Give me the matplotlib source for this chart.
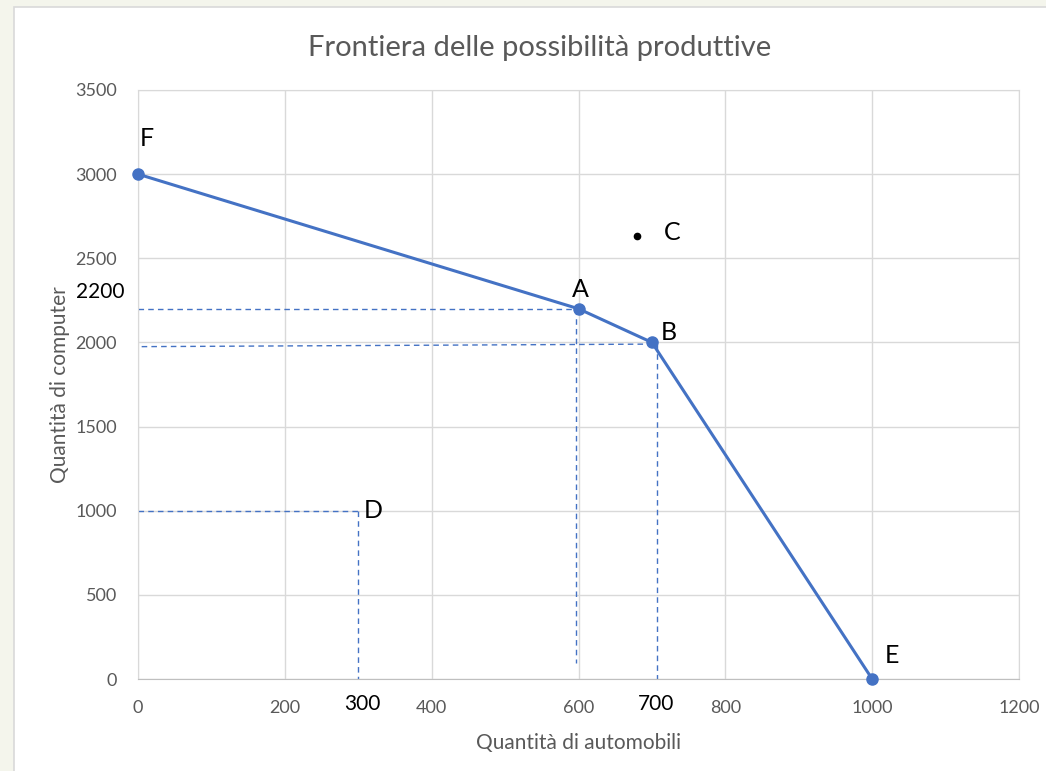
import matplotlib
matplotlib.use("Agg")
import matplotlib.pyplot as plt
from matplotlib.patches import Rectangle

plt.rcParams['font.family'] = ['Lato', 'DejaVu Sans']

# frontiera: punti F, A, B, E
front_x = [0, 600, 700, 1000]
front_y = [3000, 2200, 2000, 0]
front_names = ["F", "A", "B", "E"]

# punto C fuori dalla frontiera, punto D interno
c_x, c_y = 680, 2630
d_x, d_y = 300, 1000

# linee tratteggiate di riferimento (x0, y0, x1, y1)
guides = [
    (0, 2200, 600, 2200),
    (597, 2200, 597, 95),
    (5, 1975, 700, 1990),
    (707, 1990, 707, 0),
    (0, 1000, 300, 1000),
    (300, 1000, 300, 0),
]

x_ticks = [0, 200, 400, 600, 800, 1000, 1200]
y_ticks = [0, 500, 1000, 1500, 2000, 2500, 3000, 3500]

blue = "#4472C4"
grey = "#595959"

fig = plt.figure(figsize=(10.46, 7.71), dpi=100)
fig.patch.set_facecolor("#F4F5EC")
fig.patches.append(Rectangle((14/1046, -0.05), 1.2, 1.05 - 7/771,
                             transform=fig.transFigure, facecolor="white",
                             edgecolor="#D9D9D9", linewidth=1.2, zorder=-1))

ax = fig.add_axes([138/1046, 1 - 679/771, (1019 - 138)/1046, (679 - 90)/771])
ax.patch.set_alpha(0)
ax.set_xlim(0, 1200)
ax.set_ylim(0, 3500)
ax.set_xticks(x_ticks)
ax.set_yticks(y_ticks)
ax.grid(True, color="#D9D9D9", linewidth=1)
ax.set_axisbelow(True)
for s in ["top", "right", "left"]:
    ax.spines[s].set_color("#D9D9D9")
ax.spines["bottom"].set_color("#BFBFBF")
ax.tick_params(length=0, labelsize=13, labelcolor=grey, pad=15)

for x0, y0, x1, y1 in guides:
    ax.plot([x0, x1], [y0, y1], color=blue, lw=1, linestyle=(0, (4, 3)))

ax.plot(front_x, front_y, color=blue, lw=2.2, marker="o", markersize=8,
        clip_on=False, zorder=5)
ax.plot([c_x], [c_y], "o", color="black", markersize=4.5)

lab = dict(fontsize=18, color="black")
offsets = {"F": (6, 26), "A": (1, 14), "B": (12, 7), "E": (14, 17)}
for n, x, y in zip(front_names, front_x, front_y):
    ax.annotate(n, (x, y), xytext=offsets[n], textcoords="offset points",
                ha="center", va="center", **lab)
ax.annotate("C", (c_x, c_y), xytext=(25, 3), textcoords="offset points",
            ha="center", va="center", **lab)
ax.annotate("D", (d_x, d_y), xytext=(11, 0), textcoords="offset points",
            ha="center", va="center", **lab)

# valori evidenziati sugli assi
ax.annotate("2200", (0, 2200), xycoords=ax.get_yaxis_transform(),
            xytext=(-10, 12), textcoords="offset points", ha="right",
            va="center", fontsize=15, color="black")
for v in [300, 700]:
    ax.annotate(str(v), (v, 0), xycoords=ax.get_xaxis_transform(),
                xytext=(3, -18), textcoords="offset points", ha="center",
                va="center", fontsize=15, color="black")

ax.set_xlabel("Quantità di automobili", fontsize=15, color=grey, labelpad=12)
ax.set_ylabel("Quantità di computer", fontsize=15, color=grey, labelpad=4)
fig.text(540/1046, 1 - 48/771, "Frontiera delle possibilità produttive",
         ha="center", va="center", fontsize=21, color=grey)

fig.savefig("out.png", dpi=100)
